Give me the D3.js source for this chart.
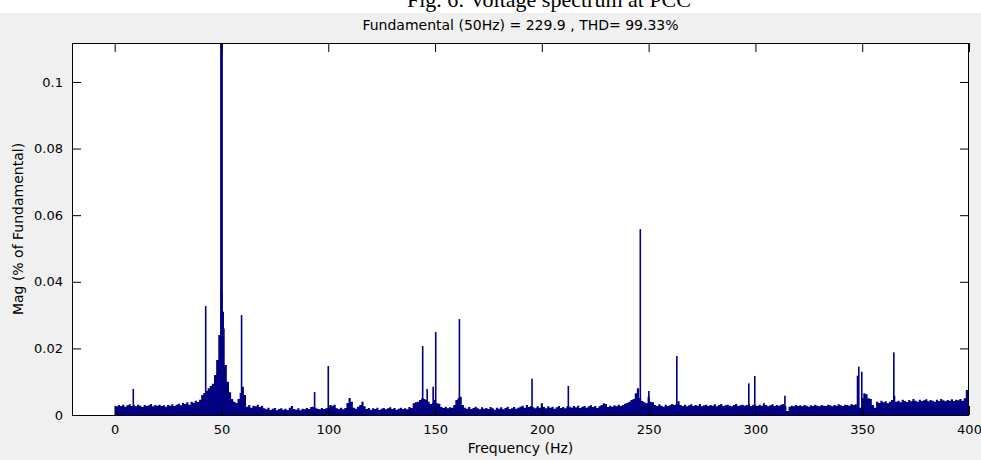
<!DOCTYPE html>
<html>
<head>
<meta charset="utf-8">
<script src="https://cdn.jsdelivr.net/npm/d3@7"></script>
<style>
  html, body { margin: 0; padding: 0; background: #f0f0f0; }
  svg { display: block; }
  text { font-family: "DejaVu Sans", "Liberation Sans", Arial, sans-serif; }
</style>
</head>
<body>
<svg id="chart" width="981" height="460"></svg>
<script>
// ---------------- data ----------------
const caption = "Fig. 6: Voltage spectrum at PCC";
const title = "Fundamental (50Hz) = 229.9 , THD= 99.33%";
const xLabel = "Frequency (Hz)";
const yLabel = "Mag (% of Fundamental)";
const xTicks = [0, 50, 100, 150, 200, 250, 300, 350, 400];
const yTicks = [0, 0.02, 0.04, 0.06, 0.08, 0.1];
const yTickLabels = ["0", "0.02", "0.04", "0.06", "0.08", "0.1"];

// spectrum floor, one value per Hz, 0..400 Hz
const floorMag = [
.0028,.0026,.0030,.0027,.0031,.0025,.0029,.0032,.0027,.0030,
.0026,.0031,.0028,.0024,.0030,.0027,.0029,.0033,.0026,.0030,
.0028,.0031,.0027,.0029,.0025,.0030,.0028,.0032,.0027,.0031,
.0034,.0029,.0036,.0033,.0038,.0031,.0040,.0037,.0043,.0039,
.0046,.0060,.0066,.0072,.0080,.0087,.0094,.0120,.0165,.0240,
.0366,.0260,.0150,.0100,.0068,.0048,.0040,.0036,.0048,.0066,
.0085,.0060,.0025,.0030,.0022,.0028,.0026,.0031,.0024,.0027,
.0020,.0017,.0022,.0015,.0019,.0021,.0014,.0018,.0020,.0016,
.0019,.0015,.0022,.0027,.0018,.0016,.0020,.0014,.0019,.0017,
.0021,.0018,.0024,.0025,.0022,.0019,.0017,.0021,.0018,.0020,
.0022,.0030,.0028,.0031,.0020,.0018,.0022,.0017,.0021,.0036,
.0051,.0040,.0022,.0019,.0025,.0030,.0040,.0026,.0018,.0021,
.0016,.0020,.0018,.0022,.0015,.0019,.0021,.0017,.0020,.0023,
.0018,.0021,.0016,.0019,.0022,.0018,.0020,.0017,.0024,.0021,
.0035,.0038,.0040,.0045,.0050,.0048,.0045,.0040,.0033,.0036,
.0045,.0035,.0034,.0024,.0021,.0025,.0020,.0023,.0022,.0030,
.0045,.0050,.0055,.0030,.0022,.0019,.0024,.0018,.0021,.0025,
.0020,.0017,.0023,.0019,.0021,.0018,.0024,.0020,.0016,.0022,
.0019,.0023,.0017,.0021,.0025,.0018,.0020,.0024,.0019,.0022,
.0025,.0028,.0022,.0030,.0024,.0027,.0023,.0020,.0026,.0022,
.0035,.0024,.0020,.0026,.0022,.0025,.0019,.0023,.0027,.0021,
.0024,.0020,.0026,.0025,.0022,.0027,.0023,.0028,.0021,.0025,
.0027,.0022,.0026,.0029,.0024,.0027,.0021,.0026,.0030,.0035,
.0033,.0024,.0028,.0025,.0029,.0026,.0031,.0027,.0030,.0034,
.0036,.0040,.0045,.0048,.0065,.0080,.0050,.0042,.0038,.0035,
.0055,.0040,.0038,.0030,.0027,.0032,.0028,.0025,.0031,.0027,
.0029,.0033,.0030,.0032,.0041,.0030,.0027,.0031,.0026,.0029,
.0032,.0027,.0030,.0028,.0033,.0026,.0029,.0031,.0027,.0030,
.0028,.0032,.0026,.0030,.0033,.0027,.0029,.0031,.0028,.0026,
.0030,.0033,.0027,.0029,.0031,.0028,.0030,.0032,.0027,.0031,
.0029,.0027,.0031,.0028,.0035,.0030,.0026,.0029,.0032,.0027,
.0030,.0028,.0031,.0033,.0027,.0012,.0025,.0028,.0026,.0030,
.0027,.0029,.0026,.0030,.0028,.0025,.0029,.0027,.0031,.0028,
.0026,.0030,.0028,.0027,.0031,.0029,.0026,.0030,.0028,.0032,
.0029,.0027,.0031,.0030,.0028,.0033,.0030,.0032,.0020,.0022,
.0050,.0065,.0062,.0050,.0048,.0030,.0022,.0040,.0036,.0043,
.0038,.0041,.0035,.0040,.0045,.0058,.0040,.0043,.0038,.0046,
.0042,.0039,.0045,.0041,.0048,.0043,.0040,.0046,.0042,.0044,
.0047,.0041,.0045,.0043,.0040,.0046,.0042,.0048,.0044,.0041,
.0045,.0043,.0047,.0042,.0046,.0044,.0048,.0043,.0050,.0075,
.0045
];

// narrow spectral lines: frequency (Hz) and magnitude
const lineFreq = [8.7, 42.6, 50.0, 50.8, 59.4, 93.6, 100.0, 144.2, 146.3, 149.1, 150.3, 161.4,
                  195.4, 212.4, 246.1, 250.1, 263.2, 296.9, 299.7, 313.8, 347.8, 348.4, 349.8, 364.8, 399.0];
const lineMag  = [.0078, .0327, 100, .0310, .0300, .0069, .0147, .0207, .0078, .0085, .0249, .0288,
                  .0109, .0087, .0558, .0072, .0177, .0095, .0117, .0058, .0118, .0145, .0130, .0188, .0075];

// ---------------- layout ----------------
const W = 981, H = 460;
const m = { left: 72, right: 12, top: 43, bottom: 45 };
const pw = W - m.left - m.right, ph = H - m.top - m.bottom;
const barColor = "#000080";

const svg = d3.select("#chart");

// white strip with the cut-off figure caption at top
svg.append("rect").attr("x", 0).attr("y", 0).attr("width", W).attr("height", 13).attr("fill", "#ffffff");
svg.append("text").attr("x", 549).attr("y", 7).attr("text-anchor", "middle")
  .style("font-family", "'Liberation Serif', 'Times New Roman', serif").style("font-size", "22px")
  .attr("fill", "#000").text(caption);

const x = d3.scaleLinear().domain([-20, 400]).range([0, pw]);
const y = d3.scaleLinear().domain([0, 0.1117]).range([ph, 0]);

const g = svg.append("g").attr("transform", `translate(${m.left},${m.top})`);

g.append("rect").attr("width", pw).attr("height", ph).attr("fill", "#ffffff");

svg.append("defs").append("clipPath").attr("id", "clip")
  .append("rect").attr("width", pw).attr("height", ph);

const plot = g.append("g").attr("clip-path", "url(#clip)");

const floorData = floorMag.map((v, i) => ({ f: i, v }));
const area = d3.area()
  .x(d => x(d.f))
  .y0(y(0))
  .y1(d => y(d.v))
  .curve(d3.curveStep);
plot.append("path").datum(floorData).attr("d", area).attr("fill", barColor);

const lines = lineFreq.map((f, i) => ({ f, v: lineMag[i] }));
plot.selectAll("rect.line").data(lines).join("rect")
  .attr("class", "line")
  .attr("x", d => x(d.f) - (d.v > 1 ? 1.4 : 0.8))
  .attr("width", d => d.v > 1 ? 2.8 : 1.6)
  .attr("y", d => y(Math.min(d.v, 0.2)))
  .attr("height", d => y(0) - y(Math.min(d.v, 0.2)))
  .attr("fill", barColor);

// axes (MATLAB style: ticks inside, box)
const tickLen = 9;
const xAxis = d3.axisBottom(x).tickValues(xTicks).tickSizeInner(-tickLen).tickSizeOuter(0).tickPadding(10).tickFormat(d3.format("d"));
const yAxis = d3.axisLeft(y).tickValues(yTicks).tickSizeInner(-tickLen).tickSizeOuter(0).tickPadding(9)
  .tickFormat((d, i) => yTickLabels[i]);
const xTop = d3.axisTop(x).tickValues(xTicks).tickSizeInner(-tickLen).tickSizeOuter(0).tickFormat("");
const yRight = d3.axisRight(y).tickValues(yTicks).tickSizeInner(-tickLen).tickSizeOuter(0).tickFormat("");

function styleAxis(sel) {
  sel.select(".domain").remove();
  sel.selectAll(".tick line").attr("stroke", "#000");
  sel.selectAll(".tick text").attr("fill", "#000").style("font-size", "13px")
    .style("font-family", "'DejaVu Sans', 'Liberation Sans', Arial, sans-serif");
}
g.append("g").attr("transform", `translate(0,${ph})`).call(xAxis).call(styleAxis);
g.append("g").call(yAxis).call(styleAxis);
g.append("g").call(xTop).call(styleAxis);
g.append("g").attr("transform", `translate(${pw},0)`).call(yRight).call(styleAxis);

g.append("rect").attr("x", 0.5).attr("y", 0.5).attr("width", pw - 1).attr("height", ph)
  .attr("fill", "none").attr("stroke", "#000").attr("stroke-width", 1);

// titles
svg.append("text").attr("x", m.left + pw / 2).attr("y", 30).attr("text-anchor", "middle")
  .style("font-size", "14px").attr("fill", "#000").text(title);
svg.append("text").attr("x", m.left + pw / 2).attr("y", 453).attr("text-anchor", "middle")
  .style("font-size", "14px").attr("fill", "#000").text(xLabel);
svg.append("text").attr("transform", `translate(23,${m.top + ph / 2}) rotate(-90)`).attr("text-anchor", "middle")
  .style("font-size", "14px").attr("fill", "#000").text(yLabel);
</script>
</body>
</html>
